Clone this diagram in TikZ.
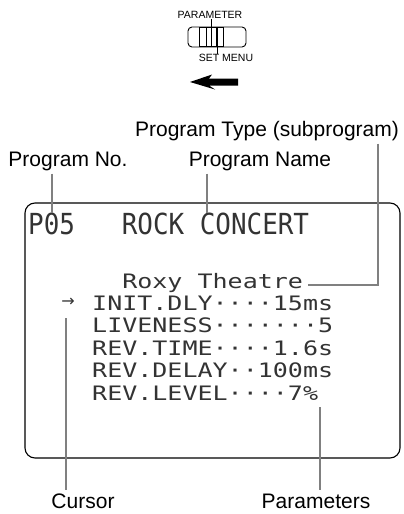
\documentclass[tikz,border=0pt]{standalone}
\usepackage{fontspec}
\setmainfont{Liberation Sans}
\newfontfamily\lcd[FakeStretch=1.257]{DejaVu Sans Mono}
\newfontfamily\lcdbig[FakeStretch=0.894]{DejaVu Sans Mono}
\newfontfamily\symf{DejaVu Sans}
\tikzset{
  lbl/.style={font=\fontsize{21}{24}\selectfont, inner sep=3pt},
  small/.style={font=\fontsize{10.5}{12}\selectfont, inner sep=0pt},
  lcdtxt/.style={font=\lcd\fontsize{19.9}{22}\selectfont, text=black!80, inner sep=0pt, anchor=base west},
  lcdtitle/.style={font=\lcdbig\fontsize{29}{32}\selectfont, text=black!80, inner sep=0pt, anchor=base west},
  conn/.style={draw=black!50, line width=1.4pt},
  display/.style={draw=black, line width=1.1pt, rounded corners=10pt},
}
\begin{document}
\begin{tikzpicture}[x=1pt,y=-1pt]
\useasboundingbox (0,0) rectangle (404,514);
% ---- switch ----
\node[small] (param) at (210,15) {PARAMETER};
\node[small] (setmenu) at (226,58) {SET MENU};
\draw[line width=0.9pt, rounded corners=4pt] (188,27) rectangle (246,47);
\draw[line width=1.8pt] (199.5,27.5) rectangle (223.5,46.5);
\draw[line width=1.6pt] (206.5,27.5) -- (206.5,46.5);
\draw[line width=1.6pt] (217,27.5) -- (217,46.5);
\coordinate (gripa) at (211.7,46.5);
\coordinate (gripb) at (217,46.5);
\draw[line width=0.8pt] (gripa |- param.south) -- (gripa);
\draw[line width=0.8pt] (gripb) -- (gripb |- setmenu.north);
\fill[black] (190,82) -- (212,74.5) -- (209,78.5) -- (238,78.5) -- (238,85.5) -- (209,85.5) -- (215,89.5) -- cycle;
% ---- labels ----
\node[lbl, anchor=base] (ptype) at (267,136) {Program Type (subprogram)};
\node[lbl, anchor=base] (pno) at (68,166) {Program No.};
\node[lbl, anchor=base] (pname) at (260,166) {Program Name};
\node[lbl, anchor=base] (cursor) at (83,508) {Cursor};
\node[lbl, anchor=base] (params) at (316,508) {Parameters};
% ---- display ----
\draw[display] (25,203) rectangle (400,458);
\node[lcdtitle] (title) at (28,234) {P05};
\node[lcdtitle] (name) at (121.6,234) {ROCK CONCERT};
\node[lcdtxt] (roxy) at (122.1,288) {Roxy Theatre};
\node[lcdtxt] (l1) at (92,310) {INIT.DLY····15ms};
\node[lcdtxt] (l2) at (92,332.5) {LIVENESS·······5};
\node[lcdtxt] (l3) at (92,355) {REV.TIME····1.6s};
\node[lcdtxt] (l4) at (92,377.5) {REV.DELAY··100ms};
\node[lcdtxt] (l5) at (92,400) {REV.LEVEL····7\%};
\node[font=\symf\fontsize{16}{18}\selectfont, text=black!80, inner sep=0pt] (arr) at (68,302) {→};
% ---- connectors ----
\coordinate (pnoend) at (52,213);
\coordinate (pnameend) at (207,213);
\coordinate (ptcorner) at (378,285);
\coordinate (curtop) at (66,318);
\coordinate (partop) at (320,407);
\draw[conn] (pnoend |- pno.south) -- (pnoend);
\draw[conn] (pnameend |- pname.south) -- (pnameend);
\draw[conn] (ptcorner |- ptype.south) -- (ptcorner) -- ([xshift=5pt,yshift=3pt]roxy.base east);
\draw[conn] (curtop) -- (curtop |- cursor.north);
\draw[conn] (partop) -- (partop |- params.north);
\end{tikzpicture}
\end{document}
